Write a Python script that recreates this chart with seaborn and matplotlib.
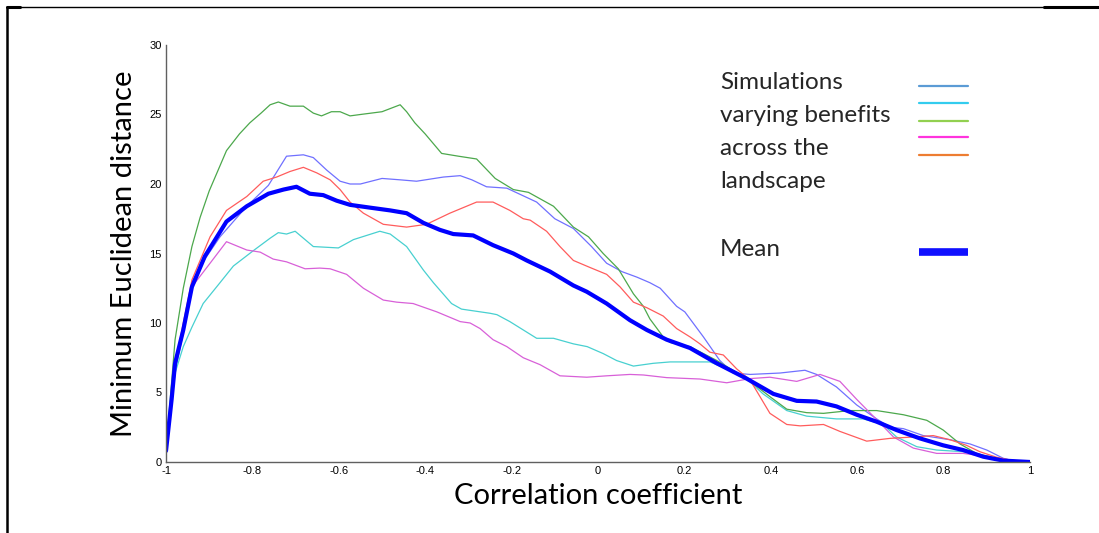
import matplotlib
matplotlib.use("Agg")
import matplotlib.pyplot as plt
from matplotlib.lines import Line2D
import seaborn as sns
import pandas as pd

# ---------------- data ----------------
green_x = [-1, -0.979, -0.96, -0.94, -0.921, -0.9, -0.86, -0.83, -0.806, -0.78, -0.759, -0.74, -0.713,
           -0.682, -0.659, -0.64, -0.617, -0.597, -0.574, -0.55, -0.5, -0.458, -0.443, -0.424, -0.4,
           -0.362, -0.323, -0.281, -0.238, -0.196, -0.161, -0.103, -0.057, -0.022, 0.012, 0.047, 0.082,
           0.105, 0.12, 0.151, 0.167, 0.213, 0.275, 0.344, 0.398, 0.437, 0.483, 0.522, 0.583, 0.645,
           0.707, 0.761, 0.799, 0.838, 0.877, 0.923, 0.96, 1.0]
green_y = [0.8, 8.8, 12.5, 15.5, 17.6, 19.5, 22.4, 23.6, 24.4, 25.1, 25.7, 25.9, 25.6,
           25.6, 25.1, 24.9, 25.2, 25.2, 24.9, 25.0, 25.2, 25.7, 25.2, 24.4, 23.6,
           22.2, 22.0, 21.8, 20.4, 19.6, 19.4, 18.4, 16.9, 16.2, 15.0, 13.9, 12.1,
           11.2, 10.3, 9.0, 8.6, 8.3, 7.3, 6.0, 4.7, 3.8, 3.55, 3.5, 3.7, 3.7,
           3.4, 3.0, 2.3, 1.3, 0.6, 0.27, 0.05, 0.0]

blue_x = [-1, -0.979, -0.96, -0.94, -0.91, -0.875, -0.813, -0.763, -0.721, -0.682, -0.659, -0.628,
          -0.597, -0.574, -0.55, -0.5, -0.458, -0.42, -0.358, -0.319, -0.292, -0.258, -0.211, -0.142,
          -0.1, -0.057, -0.015, 0.02, 0.055, 0.09, 0.12, 0.144, 0.182, 0.201, 0.244, 0.282, 0.313,
          0.352, 0.421, 0.479, 0.506, 0.552, 0.599, 0.645, 0.676, 0.707, 0.753, 0.815, 0.861, 0.9,
          0.938, 0.969, 1.0]
blue_y = [0.8, 6.5, 9.3, 12.9, 14.6, 16.2, 18.4, 19.9, 22.0, 22.1, 21.9, 21.0,
          20.2, 20.0, 20.0, 20.4, 20.3, 20.2, 20.5, 20.6, 20.3, 19.8, 19.7, 18.7,
          17.5, 16.8, 15.5, 14.3, 13.7, 13.3, 12.9, 12.5, 11.2, 10.8, 9.0, 7.3, 6.4,
          6.3, 6.4, 6.6, 6.3, 5.4, 4.1, 3.1, 2.5, 2.4, 1.9, 1.6, 1.3, 0.86,
          0.27, 0.02, 0.0]

red_x = [-1, -0.979, -0.96, -0.94, -0.898, -0.86, -0.813, -0.775, -0.744, -0.713, -0.682, -0.651,
         -0.62, -0.597, -0.574, -0.543, -0.497, -0.443, -0.397, -0.343, -0.281, -0.243, -0.204,
         -0.173, -0.157, -0.119, -0.088, -0.057, -0.019, 0.02, 0.051, 0.082, 0.113, 0.151, 0.182,
         0.213, 0.236, 0.259, 0.29, 0.321, 0.352, 0.375, 0.398, 0.437, 0.468, 0.522, 0.56, 0.622,
         0.676, 0.73, 0.776, 0.815, 0.853, 0.884, 0.923, 0.954, 1.0]
red_y = [0.6, 7.0, 10.0, 13.1, 16.2, 18.1, 19.1, 20.2, 20.5, 20.9, 21.2, 20.8,
         20.3, 19.6, 18.7, 17.9, 17.1, 16.9, 17.1, 17.9, 18.7, 18.7, 18.1,
         17.5, 17.4, 16.6, 15.5, 14.5, 14.0, 13.5, 12.6, 11.5, 11.1, 10.5, 9.6,
         9.0, 8.5, 7.9, 7.7, 6.7, 5.9, 4.7, 3.5, 2.7, 2.6, 2.7, 2.2, 1.5,
         1.7, 1.8, 1.9, 1.6, 1.2, 0.74, 0.34, 0.14, 0.0]

cyan_x = [-1, -0.979, -0.96, -0.94, -0.914, -0.875, -0.844, -0.798, -0.759, -0.74, -0.721, -0.701,
          -0.659, -0.601, -0.566, -0.505, -0.481, -0.443, -0.404, -0.381, -0.339, -0.316, -0.25,
          -0.234, -0.204, -0.142, -0.103, -0.057, -0.025, 0.012, 0.043, 0.082, 0.128, 0.167, 0.259,
          0.306, 0.344, 0.382, 0.437, 0.483, 0.552, 0.614, 0.66, 0.691, 0.738, 0.784, 0.845, 0.884,
          0.923, 0.96, 1.0]
cyan_y = [0.8, 6.4, 8.3, 9.7, 11.4, 12.9, 14.1, 15.2, 16.1, 16.5, 16.4, 16.6,
          15.5, 15.4, 16.0, 16.6, 16.4, 15.5, 13.8, 12.9, 11.4, 11.0, 10.7,
          10.6, 10.1, 8.9, 8.9, 8.5, 8.3, 7.8, 7.3, 6.9, 7.1, 7.2, 7.2,
          6.6, 6.0, 4.9, 3.7, 3.3, 3.1, 3.1, 2.7, 1.8, 1.1, 0.86, 0.74, 0.5,
          0.2, 0.03, 0.0]

magenta_x = [-1, -0.979, -0.96, -0.94, -0.898, -0.86, -0.813, -0.782, -0.752, -0.721, -0.678, -0.644,
             -0.62, -0.582, -0.543, -0.497, -0.466, -0.428, -0.373, -0.319, -0.296, -0.273, -0.243,
             -0.211, -0.173, -0.134, -0.088, -0.026, 0.02, 0.074, 0.105, 0.159, 0.236, 0.298, 0.352,
             0.398, 0.46, 0.514, 0.56, 0.599, 0.653, 0.684, 0.73, 0.784, 0.845, 0.892, 0.931, 0.965, 1.0]
magenta_y = [0.8, 6.8, 9.5, 12.6, 14.3, 15.85, 15.25, 15.1, 14.6, 14.4, 13.9, 13.95,
             13.9, 13.5, 12.5, 11.65, 11.5, 11.4, 10.8, 10.1, 10.0, 9.6, 8.8,
             8.3, 7.5, 7.0, 6.2, 6.1, 6.2, 6.3, 6.26, 6.07, 5.97, 5.7, 6.0,
             6.1, 5.8, 6.3, 5.8, 4.5, 2.8, 1.8, 1.0, 0.62, 0.62, 0.43, 0.14, 0.02, 0.0]

mean_x = [-1, -0.987, -0.979, -0.96, -0.94, -0.91, -0.86, -0.813, -0.763, -0.728, -0.698, -0.667,
          -0.636, -0.605, -0.574, -0.528, -0.481, -0.443, -0.404, -0.366, -0.335, -0.289, -0.243,
          -0.196, -0.165, -0.111, -0.057, -0.026, 0.02, 0.074, 0.113, 0.159, 0.213, 0.275, 0.344,
          0.406, 0.46, 0.506, 0.552, 0.599, 0.645, 0.691, 0.745, 0.799, 0.845, 0.892, 0.938, 1.0]
mean_y = [0.8, 4.5, 7.1, 9.5, 12.6, 14.8, 17.3, 18.4, 19.3, 19.6, 19.8, 19.3,
          19.2, 18.8, 18.5, 18.3, 18.1, 17.9, 17.2, 16.7, 16.4, 16.3, 15.6,
          15.0, 14.5, 13.7, 12.7, 12.25, 11.4, 10.2, 9.5, 8.8, 8.2, 7.1, 6.0,
          4.9, 4.4, 4.35, 4.0, 3.4, 2.9, 2.3, 1.7, 1.2, 0.86, 0.38, 0.1, 0.0]

x_ticks = [-1, -0.8, -0.6, -0.4, -0.2, 0, 0.2, 0.4, 0.6, 0.8, 1]
x_tick_labels = ["-1", "-0.8", "-0.6", "-0.4", "-0.2", "0", "0.2", "0.4", "0.6", "0.8", "1"]
y_ticks = [0, 5, 10, 15, 20, 25, 30]

legend_text = ["Simulations", "varying benefits", "across the", "landscape"]
legend_colors = ["#5b9bd5", "#33ccee", "#92d050", "#ff33dd", "#ed7d31"]

series = [
    (blue_x, blue_y, "#7070ff"),
    (cyan_x, cyan_y, "#48d0d0"),
    (green_x, green_y, "#4ca84c"),
    (magenta_x, magenta_y, "#d860d8"),
    (red_x, red_y, "#ff5c5c"),
]

# ---------------- plot ----------------
sns.set_theme(style="white")
plt.rcParams["font.family"] = ["Liberation Sans", "DejaVu Sans"]

W, H = 1099, 533
fig = plt.figure(figsize=(W / 100, H / 100), dpi=100)
ax = fig.add_axes([166 / W, 1 - 462 / H, (1030 - 166) / W, (462 - 45) / H])

for xs, ys, col in series:
    sns.lineplot(x=xs, y=ys, ax=ax, color=col, linewidth=0.9, sort=False, estimator=None)
sns.lineplot(x=mean_x, y=mean_y, ax=ax, color="#0000ff", linewidth=3.0, sort=False, estimator=None)

ax.set_xlim(-1, 1)
ax.set_ylim(0, 30)
ax.set_xticks(x_ticks)
ax.set_xticklabels(x_tick_labels)
ax.set_yticks(y_ticks)
for s in ["top", "right"]:
    ax.spines[s].set_visible(False)
for s in ["left", "bottom"]:
    ax.spines[s].set_color("#606060")
    ax.spines[s].set_linewidth(1.0)
ax.tick_params(axis="both", direction="in", length=4, width=1, color="#606060",
               labelsize=8, labelcolor="black")
ax.tick_params(axis="x", pad=3)
ax.tick_params(axis="y", pad=3)
ax.grid(False)

lab_font = ["Lato", "DejaVu Sans"]
ax.set_xlabel("Correlation coefficient", fontsize=21, family=lab_font, color="black", labelpad=5)
ax.set_ylabel("Minimum Euclidean distance", fontsize=21, family=lab_font, color="black", labelpad=9)

# legend (drawn as text + line samples, as in the original slide)
for i, t in enumerate(legend_text):
    fig.text(720 / W, 1 - (89 + 33 * i) / H, t, fontsize=17.5, family=lab_font, va="baseline", ha="left")
fig.text(720 / W, 1 - 256 / H, "Mean", fontsize=17.5, family=lab_font, va="baseline", ha="left")
leg_y = [85.5, 102.5, 120.5, 137, 155]
for yy, col in zip(leg_y, legend_colors):
    fig.add_artist(Line2D([919 / W, 968 / W], [1 - yy / H, 1 - yy / H], color=col, lw=1.6))
fig.add_artist(Line2D([919 / W, 968 / W], [1 - 252 / H, 1 - 252 / H], color="#1010ff", lw=5.5,
                      solid_capstyle="butt"))

# slide frame lines
fig.add_artist(Line2D([6.5 / W, 1], [1 - 6.5 / H, 1 - 6.5 / H], color="black", lw=1.0))
fig.add_artist(Line2D([6.5 / W, 20 / W], [1 - 6.5 / H, 1 - 6.5 / H], color="black", lw=2.2))
fig.add_artist(Line2D([1044 / W, 1], [1 - 6.5 / H, 1 - 6.5 / H], color="black", lw=2.2))
fig.add_artist(Line2D([7 / W, 7 / W], [0, 1 - 6.5 / H], color="black", lw=1.8))

fig.savefig("out.png", dpi=100)
